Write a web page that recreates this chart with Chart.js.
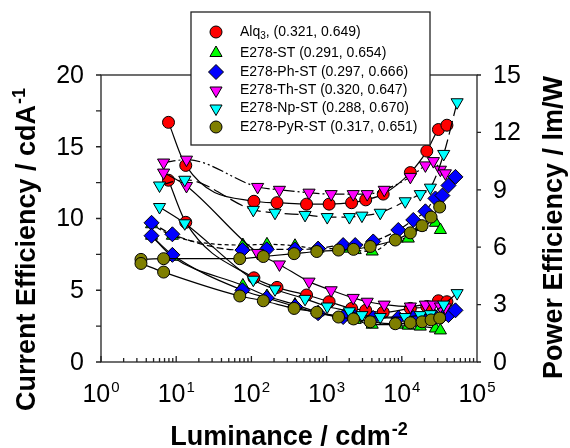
<!DOCTYPE html>
<html>
<head>
<meta charset="utf-8">
<script src="https://cdn.jsdelivr.net/npm/chart.js@4.4.1/dist/chart.umd.min.js"></script>
<style>
  html, body { margin: 0; padding: 0; background: #fff; }
</style>
</head>
<body>
<canvas id="grafico" width="570" height="448"></canvas>
<script>
// dispositivos y coordenadas CIE de la leyenda
const nombres = ['Alq3', 'E278-ST', 'E278-Ph-ST', 'E278-Th-ST', 'E278-Np-ST', 'E278-PyR-ST'];
const coordenadas = ['(0.321, 0.649)', '(0.291, 0.654)', '(0.297, 0.666)', '(0.320, 0.647)', '(0.288, 0.670)', '(0.317, 0.651)'];

// etiquetas de los ejes
const ticksIzq = [0, 5, 10, 15, 20];
const ticksDer = [0, 3, 6, 9, 12, 15];
const exponentesX = [0, 1, 2, 3, 4, 5];

// luminancia (cd/m2), eficiencia de corriente (cd/A), eficiencia de potencia (lm/W)
const lumAlq3 = [7.9, 13.4, 108, 219, 541, 1080, 2150, 3310, 5660, 13000, 21500, 30700, 39800];
const ceAlq3 = [16.7, 13.7, 11.2, 11.1, 11.0, 11.0, 11.1, 11.3, 11.7, 13.2, 14.7, 16.2, 16.5];
const peAlq3 = [9.5, 7.3, 4.4, 3.9, 3.5, 3.15, 2.8, 2.7, 2.6, 2.8, 2.9, 3.2, 3.15];

const lumST = [4.7, 8.9, 77, 161, 380, 770, 1660, 2400, 4040, 8700, 12200, 17600, 28000, 32600];
const ceST = [9.6, 8.8, 8.15, 8.2, 8.1, 7.9, 7.9, 7.8, 7.7, 8.6, 8.6, 9.4, 9.7, 9.2];
const peST = [6.6, 5.5, 4.0, 3.45, 3.0, 2.6, 2.35, 2.2, 1.95, 1.95, 1.9, 1.85, 1.75, 1.65];

const lumPh = [4.7, 8.9, 76, 160, 380, 770, 1660, 2400, 4170, 8980, 14200, 20600, 28000, 34700, 41700, 51700];
const cePh = [9.7, 8.9, 7.8, 7.85, 7.85, 7.9, 8.15, 8.15, 8.4, 9.2, 9.9, 10.5, 11.4, 11.6, 12.3, 12.9];
const pePh = [6.6, 5.6, 3.75, 3.35, 2.9, 2.55, 2.35, 2.35, 2.3, 2.3, 2.3, 2.3, 2.35, 2.4, 2.45, 2.7];

const lumTh = [6.8, 13.7, 121, 236, 584, 1150, 2260, 3470, 5840, 13000, 20600, 26300, 32600, 38000];
const ceTh = [13.9, 14.1, 12.2, 12.0, 11.8, 11.7, 11.7, 11.7, 12.0, 12.9, 13.7, 14.0, 13.4, 13.15];
const peTh = [9.9, 9.2, 5.7, 5.1, 4.2, 3.75, 3.35, 3.15, 3.0, 2.9, 3.0, 3.0, 2.9, 2.85];

const lumNp = [6.0, 13.0, 106, 206, 517, 1020, 2010, 2950, 5170, 11100, 17600, 24000, 36100, 54400];
const ceNp = [12.3, 12.7, 10.6, 10.4, 10.25, 10.1, 10.1, 10.2, 10.4, 11.2, 11.7, 12.15, 14.5, 18.1];
const peNp = [8.1, 7.25, 4.3, 3.8, 3.3, 2.9, 2.65, 2.45, 2.35, 2.35, 2.45, 2.5, 3.0, 3.6];

const lumPyR = [3.4, 6.8, 70, 144, 370, 740, 1440, 2280, 3800, 8200, 13000, 18600, 24500, 31900];
const cePyR = [7.15, 7.2, 7.2, 7.35, 7.55, 7.7, 7.8, 7.85, 8.05, 8.5, 9.0, 9.5, 10.1, 10.8];
const pePyR = [5.15, 4.7, 3.45, 3.2, 2.8, 2.6, 2.35, 2.25, 2.1, 2.0, 2.05, 2.1, 2.2, 2.3];

const series = [
  { lum: lumAlq3, ce: ceAlq3, pe: peAlq3 },
  { lum: lumST, ce: ceST, pe: peST },
  { lum: lumPh, ce: cePh, pe: pePh },
  { lum: lumTh, ce: ceTh, pe: peTh },
  { lum: lumNp, ce: ceNp, pe: peNp },
  { lum: lumPyR, ce: cePyR, pe: pePyR },
];

// estilos
const colores = ['#ff0000', '#00ff00', '#0000ff', '#ff00ff', '#00ffff', '#7f7f00'];
const formas = ['circle', 'triangle', 'rectRot', 'triangle', 'triangle', 'circle'];
const giros = [0, 0, 0, 180, 180, 0];
const radios = [6, 7, 7.5, 7, 7, 6];
const trazosCE = [[], [4, 3], [7, 3], [12, 3, 2, 3, 2, 3], [14, 5], []];
const fuente = "'Liberation Sans', Arial, Helvetica, sans-serif";

const datasets = [];
series.forEach((s, i) => {
  const base = {
    borderColor: '#000',
    borderWidth: 1.2,
    backgroundColor: colores[i],
    pointStyle: formas[i],
    pointRotation: giros[i],
    pointRadius: radios[i],
    pointBackgroundColor: colores[i],
    pointBorderColor: '#000',
    pointBorderWidth: 1,
    cubicInterpolationMode: 'monotone',
    fill: false,
  };
  datasets.push({
    ...base,
    label: nombres[i] + ' CE',
    data: s.lum.map((l, k) => ({ x: l, y: s.ce[k] })),
    yAxisID: 'y',
    borderDash: trazosCE[i],
    order: series.length * 2 - i * 2,
  });
  datasets.push({
    ...base,
    label: nombres[i] + ' PE',
    data: s.lum.map((l, k) => ({ x: l, y: s.pe[k] })),
    yAxisID: 'y2',
    order: series.length * 2 - i * 2 - 1,
  });
});

const dibujarMarcador = (ctx, i, x, y) => {
  ctx.beginPath();
  if (formas[i] === 'circle') {
    ctx.arc(x, y, radios[i], 0, Math.PI * 2);
  } else if (formas[i] === 'triangle') {
    const r = radios[i];
    const s = giros[i] ? -1 : 1;
    ctx.moveTo(x, y - s * r);
    ctx.lineTo(x + r * 0.866, y + s * r * 0.5);
    ctx.lineTo(x - r * 0.866, y + s * r * 0.5);
    ctx.closePath();
  } else {
    const r = radios[i];
    ctx.moveTo(x, y - r);
    ctx.lineTo(x + r, y);
    ctx.lineTo(x, y + r);
    ctx.lineTo(x - r, y);
    ctx.closePath();
  }
  ctx.fillStyle = colores[i];
  ctx.fill();
  ctx.strokeStyle = '#000';
  ctx.lineWidth = 1;
  ctx.stroke();
};

// texto con superindice, empezando en (0,0) del contexto actual
const textoSup = (ctx, texto, sup, tam, tamSup, subida, negrita) => {
  const peso = negrita ? 'bold ' : '';
  ctx.font = peso + tam + 'px ' + fuente;
  ctx.fillText(texto, 0, 0);
  const w = ctx.measureText(texto).width;
  ctx.font = peso + tamSup + 'px ' + fuente;
  ctx.fillText(sup, w + 1, -subida);
  return w + 1 + ctx.measureText(sup).width;
};

const anchoSup = (ctx, texto, sup, tam, tamSup, negrita) => {
  const peso = negrita ? 'bold ' : '';
  ctx.font = peso + tam + 'px ' + fuente;
  const w = ctx.measureText(texto).width;
  ctx.font = peso + tamSup + 'px ' + fuente;
  return w + 1 + ctx.measureText(sup).width;
};

const ejes = {
  id: 'ejes',
  beforeDatasetsDraw(chart) {
    const { ctx, chartArea: a, scales } = chart;
    ctx.save();
    ctx.strokeStyle = '#222';
    ctx.lineWidth = 1.3;
    ctx.strokeRect(a.left, a.top, a.right - a.left, a.bottom - a.top);
    ctx.beginPath();
    for (let v = 0; v <= 20; v += 2.5) {
      const y = scales.y.getPixelForValue(v);
      ctx.moveTo(a.left - 5, y);
      ctx.lineTo(a.left, y);
    }
    ticksDer.forEach((v) => {
      const y = scales.y2.getPixelForValue(v);
      ctx.moveTo(a.right, y);
      ctx.lineTo(a.right + 4, y);
    });
    for (let e = 0; e < 5; e++) {
      for (let m = 1; m <= 9; m++) {
        const x = scales.x.getPixelForValue(m * Math.pow(10, e));
        ctx.moveTo(x, a.bottom);
        ctx.lineTo(x, a.bottom - (m === 1 ? 6 : 4));
      }
    }
    ctx.stroke();
    ctx.restore();
  },
  afterDraw(chart) {
    const { ctx, chartArea: a, scales } = chart;
    ctx.save();
    ctx.fillStyle = '#000';

    // numeros eje izquierdo
    ctx.font = '25px ' + fuente;
    ctx.textAlign = 'right';
    ctx.textBaseline = 'middle';
    ticksIzq.forEach((v) => ctx.fillText(String(v), a.left - 17, scales.y.getPixelForValue(v) + 1));
    // numeros eje derecho
    ctx.textAlign = 'left';
    ticksDer.forEach((v) => ctx.fillText(String(v), a.right + 16, scales.y2.getPixelForValue(v) + 1));

    // potencias de diez
    ctx.textBaseline = 'alphabetic';
    exponentesX.forEach((e) => {
      const x = scales.x.getPixelForValue(Math.pow(10, e));
      const w = anchoSup(ctx, '10', String(e), 25, 15, false);
      ctx.save();
      ctx.translate(x - w / 2, a.bottom + 40);
      textoSup(ctx, '10', String(e), 25, 15, 10, false);
      ctx.restore();
    });

    // titulos
    const wx = anchoSup(ctx, 'Luminance / cdm', '-2', 27, 18, true);
    ctx.save();
    ctx.translate((a.left + a.right) / 2 - wx / 2, 445);
    textoSup(ctx, 'Luminance / cdm', '-2', 27, 18, 10, true);
    ctx.restore();

    ctx.save();
    ctx.translate(35, 411);
    ctx.rotate(-Math.PI / 2);
    textoSup(ctx, 'Current Efficiency / cdA', '-1', 27, 18, 10, true);
    ctx.restore();

    ctx.save();
    ctx.translate(562, 379);
    ctx.rotate(-Math.PI / 2);
    ctx.font = 'bold 27px ' + fuente;
    ctx.fillText('Power Efficiency / lm/W', 0, 0);
    ctx.restore();

    // leyenda
    ctx.fillStyle = '#fff';
    ctx.fillRect(191, 12, 239, 133);
    ctx.strokeStyle = '#222';
    ctx.lineWidth = 1.3;
    ctx.strokeRect(191, 12, 239, 133);
    const filas = [32, 53, 72, 90.5, 108.5, 127];
    nombres.forEach((n, i) => {
      const y = filas[i];
      dibujarMarcador(ctx, i, 216, y);
      ctx.fillStyle = '#000';
      ctx.textAlign = 'left';
      ctx.textBaseline = 'middle';
      ctx.font = '14px ' + fuente;
      const m = n.match(/^([A-Za-z]+)(\d)$/);
      if (m) {
        ctx.fillText(m[1], 240, y);
        let x = 240 + ctx.measureText(m[1]).width;
        ctx.font = '10px ' + fuente;
        ctx.fillText(m[2], x, y + 4);
        x += ctx.measureText(m[2]).width;
        ctx.font = '14px ' + fuente;
        ctx.fillText(', ' + coordenadas[i], x, y);
      } else {
        ctx.fillText(n + ' ' + coordenadas[i], 240, y);
      }
    });
    ctx.restore();
  },
};

const grafico = new Chart(document.querySelector('#grafico'), {
  type: 'line',
  data: { datasets },
  options: {
    responsive: false,
    animation: false,
    devicePixelRatio: 1,
    layout: { padding: { left: 101, right: 93, top: 75, bottom: 86 } },
    plugins: { legend: { display: false }, tooltip: { enabled: false } },
    scales: {
      x: { type: 'logarithmic', min: 1, max: 100000, display: false },
      y: { type: 'linear', min: 0, max: 20, display: false },
      y2: { type: 'linear', min: 0, max: 15, display: false, position: 'right' },
    },
  },
  plugins: [ejes],
});
</script>
</body>
</html>
